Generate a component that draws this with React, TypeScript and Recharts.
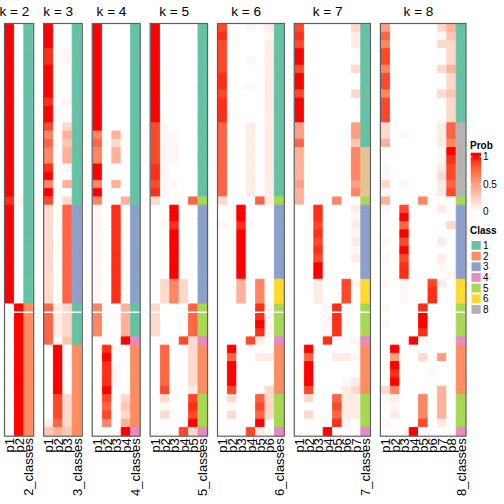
import React from 'react';
import { BarChart, Bar, Cell, XAxis, YAxis, ReferenceLine } from 'recharts';

// one char per row (50 rows, top to bottom), grouped by 10 for reading
// '0' none, '.' trace, '1'..'9' tenths-ish, 'x' = 1
const LEVEL: Record<string, number> = {
  '0': 0, '.': 0.04, '1': 0.1, '2': 0.2, '3': 0.3, '4': 0.4, '5': 0.5,
  '6': 0.62, '7': 0.76, '8': 0.87, '9': 0.94, x: 1,
};

const k2Prob = [
  'xxxxxxxxxx xxxxxxxxxx x9xxxxxxxx xxxx000000 0000000000',
  '0000000000 0000000000 0.00000000 0000xxxxxx xxxxxxxxxx',
];
const k2Class = '1111111111 1111111111 1111111111 1111222222 2222222222';

const k3Prob = [
  'xxx99xxxx9 xx867669x6 x822222222 2222777770 0000000013',
  '0000000000 0000000000 0000000000 000011110x xxxxx88874',
  '000..0000. 0024344.04 0277777777 7777222230 0000022223',
];
const k3Class = '1111111111 1111111111 1133333333 3333111112 2222222222';

const k4Prob = [
  'xxxxxxxxxx xxx6766xx6 x6........ ....666600 0000000000',
  '0000000000 0000000000 0000000000 0000000009 x999x87860',
  '0000000000 0004244004 0099999999 999900000. 0...000000',
  '0000000000 0000000000 0400000000 00004444x0 000002324x',
];
const k4Class = '1111111111 1111111111 1133333333 3333111142 2222222224';

const k5Prob = [
  'xxxxxxxxxx xx88888998 9200000000 0000222200 0000000000',
  '0000000000 00........ .000.00000 0222000007 777782.200',
  '0000000000 000....00. 00xx9xxxxx x666000000 0000000000',
  '0000000000 0000000000 0000000000 0222000080 0000000008',
  '0000000000 0000000000 0700000000 0000777722 22221898x2',
];
const k5Class = '1111111111 1111111111 1533333333 3333555542 2222255554';

const k6Prob = [
  '8988889989 9977777777 7200.00000 0000000000 0000000000',
  '0000000000 0000000000 0000000000 000000000x 7xxx82.200',
  '0000000000 0000000000 00xx9xxxxx x444000000 0000000000',
  '.000.00.00 0011111111 1000.00000 0000000080 0000000008',
  '0000000000 0000000000 0700000000 066699x910 10000787x1',
  '1.11111111 1111111111 1100000000 0000....00 1000222200',
];
const k6Class = '1111111111 1111111111 1533333333 3666555542 2222255554';

const k7Prob = [
  '898xx8xx8x xx55744445 4400000000 0000000000 0000000000',
  '0000000000 0000000000 0000000000 000000000x 7xxx820200',
  '0000000000 0000000000 009989898x x111000000 0000000000',
  '0000000000 0000000000 0000000000 0000....90 000000000x',
  '0000000000 0000000000 0600000000 0000999900 1000078790',
  '0000000000 0000000000 0000000000 0888000000 100.1111.0',
  '2110020020 0055366665 601.1.1.10 0.000000.0 .001211100',
];
const k7Class = '1111111111 1111177777 7533333333 3666555542 2222255554';

const k8Prob = [
  '5768868868 8822400..2 .4.000.0.0 0.00.0.000 00002.00.0',
  '0000000000 0000000000 0000000000 000000000x 5x9x61.100',
  '0000000000 000.00000. 008x7x8x89 9...000000 0000000000',
  '0000000000 0000000000 0000000000 00000000x0 000000000x',
  '0000000000 0000000000 0600000000 00009xx900 2000066680',
  '0000000000 0000000000 0000000000 0899000000 00.0000000',
  '2.20020020 001110.121 101000101. 0100000000 5000444410',
  '4322242232 22776x9887 8000200000 .000000000 0000000000',
];
const k8Class = '1111111111 1188888888 8533333333 3666555542 2222255554';

const CLASS_COLORS: Record<string, string> = {
  '1': '#66C2A5', '2': '#FC8D62', '3': '#8DA0CB', '4': '#E78AC3',
  '5': '#A6D854', '6': '#FFD92F', '7': '#E5C494', '8': '#B3B3B3',
};
const legendClasses = ['1', '2', '3', '4', '5', '6', '8'];
const probTicks = [1, 0.5, 0];

const PANELS = [
  { k: 2, probs: k2Prob, cls: k2Class },
  { k: 3, probs: k3Prob, cls: k3Class },
  { k: 4, probs: k4Prob, cls: k4Class },
  { k: 5, probs: k5Prob, cls: k5Class },
  { k: 6, probs: k6Prob, cls: k6Class },
  { k: 7, probs: k7Prob, cls: k7Class },
  { k: 8, probs: k8Prob, cls: k8Class },
];

const N_ROWS = 50;
const COL_W = 9.4;
const GAP = 10.95;
const LEFT = 5;
const TOP = 24;
const PLOT_H = 411.7;
const AXIS_H = 66;
const FONT = '"Liberation Sans", Arial, Helvetica, sans-serif';

// white -> red, interpolated in Lab like colorRamp2
function labToHex(L: number, a: number, b: number) {
  const fy = (L + 16) / 116;
  const fx = fy + a / 500;
  const fz = fy - b / 200;
  const inv = (t: number) => (t > 6 / 29 ? t * t * t : 3 * (6 / 29) ** 2 * (t - 4 / 29));
  const X = 0.95047 * inv(fx), Y = inv(fy), Z = 1.08883 * inv(fz);
  const lin = [
    3.2406 * X - 1.5372 * Y - 0.4986 * Z,
    -0.9689 * X + 1.8758 * Y + 0.0415 * Z,
    0.0557 * X - 0.204 * Y + 1.057 * Z,
  ];
  return '#' + lin.map((c) => {
    const v = c <= 0.0031308 ? 12.92 * c : 1.055 * Math.pow(c, 1 / 2.4) - 0.055;
    const n = Math.round(Math.min(1, Math.max(0, v)) * 255);
    return n.toString(16).padStart(2, '0');
  }).join('');
}
const probColor = (v: number) => labToHex(100 - 46.76 * v, 80.09 * v, 67.2 * v);

const clean = (s: string) => s.replace(/ /g, '').padEnd(N_ROWS, '0').slice(0, N_ROWS).split('');

function RotTick(props: any) {
  const { x, y, payload } = props;
  return (
    <text x={x} y={y} transform={`rotate(-90, ${x}, ${y})`} textAnchor="end" dy="0.36em"
      fontSize={13} fill="#000" fontFamily={FONT}>
      {payload.value}
    </text>
  );
}

const lefts: number[] = [];
PANELS.reduce((x, p) => { lefts.push(x); return x + (p.probs.length + 1) * COL_W + GAP; }, LEFT);

function Panel({ k, probs, cls, left }: { k: number; probs: string[]; cls: string; left: number }) {
  const names = [...probs.map((_, i) => `p${i + 1}`), `${k}_classes`];
  const colors = [
    ...probs.map((s) => clean(s).map((c) => probColor(LEVEL[c] ?? 0))),
    clean(cls).map((c) => CLASS_COLORS[c]),
  ];
  const data = names.map((name) => {
    const o: Record<string, any> = { name };
    for (let r = 0; r < N_ROWS; r++) o['r' + r] = 1;
    return o;
  });
  const width = names.length * COL_W;
  return (
    <div style={{ position: 'absolute', left, top: TOP }}>
      <BarChart width={width} height={PLOT_H + AXIS_H} data={data}
        margin={{ top: 0, right: 0, bottom: 0, left: 0 }} barCategoryGap={0} barGap={0}>
        <XAxis dataKey="name" interval={0} tickLine={false} axisLine={false} height={AXIS_H}
          tickSize={0} tickMargin={2.5} tick={<RotTick />} />
        <YAxis type="number" domain={[0, N_ROWS]} reversed hide />
        {Array.from({ length: N_ROWS }, (_, r) => (
          <Bar key={r} dataKey={'r' + r} stackId="s" isAnimationActive={false}>
            {colors.map((col, j) => (
              <Cell key={j} fill={col[r]} stroke={col[r]} strokeWidth={0.9} />
            ))}
          </Bar>
        ))}
        <ReferenceLine y={35} stroke="#ffffff" strokeWidth={1.5} />
      </BarChart>
    </div>
  );
}

export default function App() {
  const gradStops = Array.from({ length: 11 }, (_, i) => 1 - i / 10);
  return (
    <div style={{ position: 'absolute', left: 0, top: 0, width: 504, height: 504, background: '#fff', fontFamily: FONT }}>
      <style>{'.recharts-surface{overflow:visible}'}</style>
      {PANELS.map((p, i) => (
        <Panel key={p.k} k={p.k} probs={p.probs} cls={p.cls} left={lefts[i]} />
      ))}
      <svg width={504} height={504} style={{ position: 'absolute', left: 0, top: 0, pointerEvents: 'none' }}>
        <defs>
          <linearGradient id="probGrad" gradientUnits="userSpaceOnUse" x1="0" y1="156.7" x2="0" y2="211.7">
            {gradStops.map((v, i) => (
              <stop key={i} offset={`${i * 10}%`} stopColor={probColor(v)} />
            ))}
          </linearGradient>
        </defs>
        {PANELS.map((p, i) => {
          const w = (p.probs.length + 1) * COL_W;
          return (
            <g key={p.k}>
              <rect x={lefts[i] - 0.5} y={TOP - 0.5} width={w + 1} height={PLOT_H + 1}
                fill="none" stroke="#5e5e5e" strokeWidth={1.2} />
              <text x={lefts[i] + (p.probs.length * COL_W) / 2} y={15.7} textAnchor="middle"
                fontSize={13.6} fontFamily={FONT} fill="#000">{`k = ${p.k}`}</text>
            </g>
          );
        })}
        <text x={470} y={148.5} fontSize={10} fontWeight="bold" fontFamily={FONT}>Prob</text>
        <rect x={470.7} y={152.7} width={10.3} height={59.6} fill="url(#probGrad)" />
        {probTicks.slice(0, 2).map((v) => {
          const y = 211.7 - v * 55;
          return (
            <g key={v}>
              <line x1={470.7} x2={472.5} y1={y} y2={y} stroke="#fff" strokeWidth={0.8} />
              <line x1={479.2} x2={481} y1={y} y2={y} stroke="#fff" strokeWidth={0.8} />
            </g>
          );
        })}
        {probTicks.map((v) => (
          <text key={v} x={483} y={211.7 - v * 55 + 3.6} fontSize={10} fontFamily={FONT}>{String(v)}</text>
        ))}
        <text x={470} y={233.5} fontSize={10} fontWeight="bold" fontFamily={FONT}>Class</text>
        {legendClasses.map((c, i) => (
          <g key={c}>
            <rect x={471.5} y={241 + i * 10.67} width={9.2} height={8.8} fill={CLASS_COLORS[c]} />
            <text x={483} y={241 + i * 10.67 + 8} fontSize={10} fontFamily={FONT}>{c}</text>
          </g>
        ))}
      </svg>
    </div>
  );
}
